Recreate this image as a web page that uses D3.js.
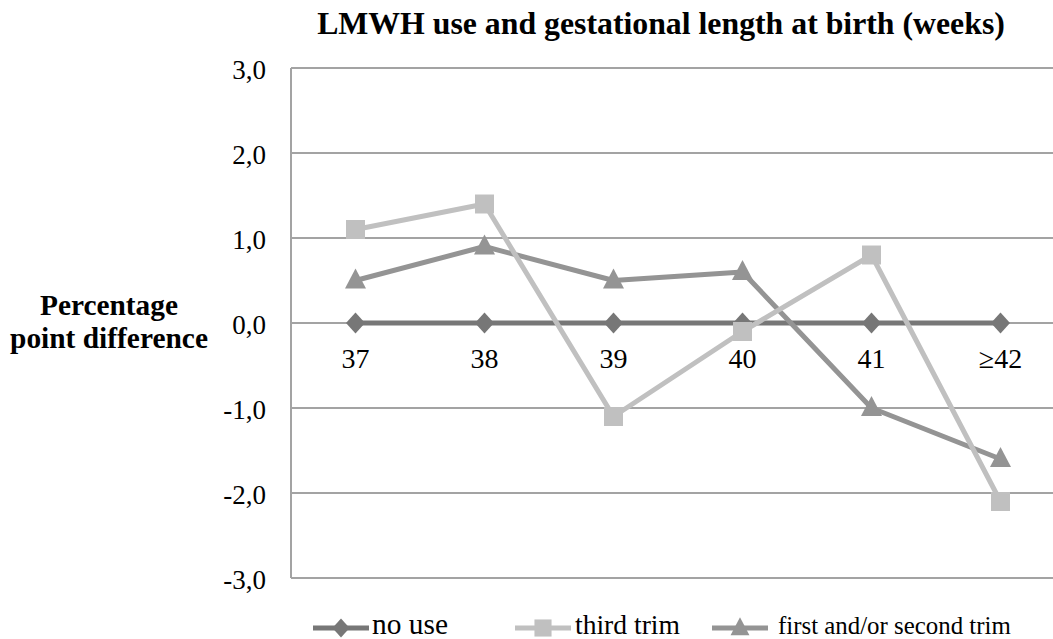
<!DOCTYPE html>
<html><head><meta charset="utf-8">
<script src="https://cdn.jsdelivr.net/npm/d3@7"></script>
</head><body style="margin:0;background:#fff"><svg id="c" width="1053" height="639" style="display:block"></svg>
<script>
const categories = ["37","38","39","40","41","\u226542"];
const noUse = [0,0,0,0,0,0];
const thirdTrim = [1.1,1.4,-1.1,-0.1,0.8,-2.1];
const firstSecondTrim = [0.5,0.9,0.5,0.6,-1.0,-1.6];
const yTicks = [-3,-2,-1,0,1,2,3];
const seriesNames = ["no use","third trim","first and/or second trim"];

(function(){
const svg = d3.select("#c");
const pLeft = 291, pRight = 1065, pTop = 68, pBottom = 578;
const x = d3.scaleBand().domain(categories).range([pLeft, pRight]);
const y = d3.scaleLinear().domain([-3,3]).range([pBottom, pTop]);
const fmt = v => d3.format(".1f")(v).replace(".", ",").replace("\u2212","-");
function txt(sel){ return sel.style("font-family", '"Liberation Serif"'); }
function fit(t, w){ const l = t.node().getComputedTextLength(); const fs = +t.attr("font-size"); t.attr("font-size", (fs*w/l).toFixed(2)); return t; }

svg.append("g").selectAll("line").data(yTicks).join("line")
  .attr("x1", pLeft).attr("x2", 1053).attr("y1", d=>y(d)).attr("y2", d=>y(d))
  .attr("stroke", "#a3a3a3").attr("stroke-width", 2);
svg.append("line").attr("x1", pLeft).attr("x2", pLeft).attr("y1", pTop).attr("y2", pBottom)
  .attr("stroke", "#a3a3a3").attr("stroke-width", 2);
txt(svg.append("g").selectAll("text").data(yTicks).join("text"))
  .attr("x", 266).attr("y", d=>y(d)+11).attr("text-anchor","end")
  .attr("font-size", 27).text(d=>fmt(d));
txt(svg.append("g").selectAll("text").data(categories).join("text"))
  .attr("x", d=>x(d)+x.bandwidth()/2).attr("y", 368).attr("text-anchor","middle")
  .attr("font-size", 28).text(d=>d);

fit(txt(svg.append("text")).attr("x", 661).attr("y", 34).attr("text-anchor","middle")
  .attr("font-size", 27).attr("font-weight","bold").text("LMWH use and gestational length at birth (weeks)"), 688);
fit(txt(svg.append("text")).attr("x", 109).attr("y", 315).attr("text-anchor","middle")
  .attr("font-size", 25).attr("font-weight","bold").text("Percentage"), 138);
fit(txt(svg.append("text")).attr("x", 109).attr("y", 348).attr("text-anchor","middle")
  .attr("font-size", 25).attr("font-weight","bold").text("point difference"), 198);

const diamond = {draw(ctx){ const w=9.5, h=10.5; ctx.moveTo(0,-h); ctx.lineTo(w,0); ctx.lineTo(0,h); ctx.lineTo(-w,0); ctx.closePath(); }};
const square = {draw(ctx){ const h=9.5; ctx.moveTo(-h,-h); ctx.lineTo(h,-h); ctx.lineTo(h,h); ctx.lineTo(-h,h); ctx.closePath(); }};
const tri = {draw(ctx){ ctx.moveTo(0,-12); ctx.lineTo(10.5,8); ctx.lineTo(-10.5,8); ctx.closePath(); }};

const series = [
  {name: seriesNames[0], values: noUse, color: "#777777", shape: diamond},
  {name: seriesNames[1], values: thirdTrim, color: "#c0c0c0", shape: square},
  {name: seriesNames[2], values: firstSecondTrim, color: "#949494", shape: tri}
];
const cx = i => x(categories[i]) + x.bandwidth()/2;
const line = d3.line().x((d,i)=>cx(i)).y(d=>y(d));
[0,2,1].forEach(k => {
  const s = series[k];
  const g = svg.append("g");
  g.append("path").attr("d", line(s.values)).attr("fill","none")
    .attr("stroke", s.color).attr("stroke-width", 5).attr("stroke-linejoin","round");
  g.selectAll("path.m").data(s.values).join("path").attr("class","m")
    .attr("d", d3.symbol().type(s.shape))
    .attr("transform", (d,i)=>`translate(${cx(i)},${y(d)})`)
    .attr("fill", s.color);
});

const legendPos = [{lx:313, tx:372, w:76},{lx:515, tx:575, w:105},{lx:712, tx:778, w:233}];
const ly = 628;
series.forEach((s,k) => {
  const p = legendPos[k];
  const g = svg.append("g");
  g.append("line").attr("x1", p.lx).attr("x2", p.lx+56).attr("y1", ly).attr("y2", ly)
    .attr("stroke", s.color).attr("stroke-width", 5);
  g.append("path").attr("d", d3.symbol().type(s.shape))
    .attr("transform", `translate(${p.lx+28},${ly}) scale(0.9)`).attr("fill", s.color);
  fit(txt(g.append("text")).attr("x", p.tx).attr("y", 634)
    .attr("font-size", 28).text(s.name), p.w);
});
})();
</script></body></html>
